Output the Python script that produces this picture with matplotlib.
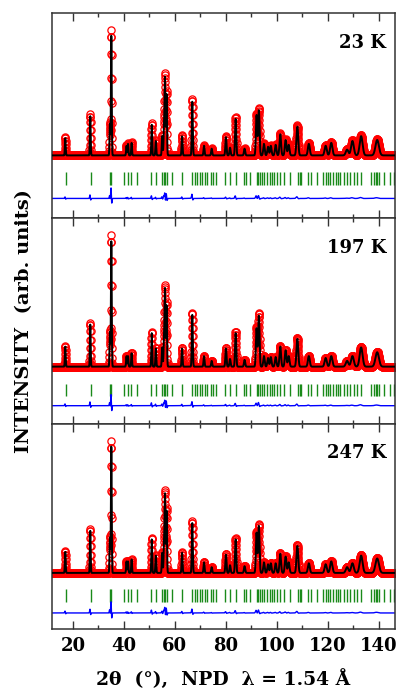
import numpy as np
import matplotlib
matplotlib.use("Agg")
import matplotlib.pyplot as plt
from matplotlib.ticker import MultipleLocator

# reflection positions (2theta, deg) and observed peak heights for each temperature
peak_pos = [17.0, 26.8, 34.5, 35.05, 41.0, 41.6, 43.0, 50.9, 52.5, 55.0, 55.7, 56.1,
            56.7, 62.8, 66.8, 71.4, 74.4, 80.0, 81.6, 83.8, 87.3, 92.0, 92.9, 94.9,
            96.5, 97.6, 99.5, 101.3, 103.4, 104.6, 108.0, 112.5, 119.1, 121.3,
            127.5, 129.6, 133.0, 139.3]
h_23K = [180, 410, 330, 1250, 100, 120, 130, 320, 150, 200, 300, 800,
         640, 200, 560, 100, 70, 190, 80, 380, 70, 420, 470, 120,
         90, 100, 110, 220, 160, 110, 300, 120, 100, 130,
         60, 150, 200, 160]
h_197K = [210, 440, 360, 1310, 110, 110, 140, 350, 190, 200, 300, 800,
          640, 190, 540, 110, 60, 190, 80, 350, 70, 400, 530, 110,
          90, 100, 100, 210, 170, 110, 290, 110, 90, 110,
          60, 110, 200, 150]
h_247K = [220, 440, 370, 1320, 120, 120, 140, 350, 180, 210, 300, 810,
          650, 210, 520, 110, 60, 190, 80, 350, 70, 420, 490, 110,
          90, 100, 100, 200, 170, 110, 280, 100, 90, 120,
          60, 100, 180, 150]

# Bragg reflection markers (same phase in every pattern)
bragg = [17.1, 26.9, 34.5, 35.1, 40.2, 41.5, 42.8, 45.2, 50.8, 52.4, 55.0, 55.7,
         56.3, 57.0, 58.7, 62.9, 66.8, 67.7, 68.7, 69.8, 70.7, 71.6, 72.7, 74.0,
         75.0, 76.2, 79.8, 81.5, 83.8, 87.0, 87.7, 89.6, 92.0, 92.5, 93.3, 94.2,
         94.9, 96.2, 97.2, 97.9, 98.8, 100.1, 101.1, 102.7, 105.1, 108.2, 109.0,
         109.5, 112.3, 113.2, 115.8, 118.2, 119.1, 120.0, 121.0, 121.9, 123.0,
         123.9, 124.9, 126.2, 127.3, 128.6, 130.2, 131.5, 132.8, 136.7, 138.0,
         138.8, 139.3, 140.1, 141.9, 144.5, 145.8]

temps = ["23 K", "197 K", "247 K"]
heights = [h_23K, h_197K, h_247K]

# panel-specific vertical layout: limits, bragg marker band, difference offset
ylims = [(-630, 1420), (-570, 1480), (-560, 1490)]
tick_rows = [(-170, -300), (-170, -290), (-160, -290)]
diff_off = [-430, -390, -400]

# Caglioti width parameters
U, V, W = 0.40, -0.20, 0.15
calc_scale = 0.96   # refined scale vs. observed
zero_shift = 0.015  # small zero-point mismatch

tth = np.arange(12.0, 146.5, 0.05)


def profile(x, pos, hts, scale=1.0, shift=0.0):
    y = np.zeros_like(x)
    for p, h in zip(pos, hts):
        t = np.tan(np.radians(p / 2))
        fwhm = np.sqrt(U * t**2 + V * t + W)
        sig = fwhm / 2.3548
        y += scale * h * np.exp(-0.5 * ((x - p - shift) / sig) ** 2)
    return y


serif = "DejaVu Serif"
plt.rcParams["font.family"] = serif
plt.rcParams["font.weight"] = "bold"

fig, axes = plt.subplots(3, 1, figsize=(4.0, 6.95), dpi=100, sharex=True)
fig.subplots_adjust(left=0.13, right=0.9875, top=0.981, bottom=0.095, hspace=0)

for i, ax in enumerate(axes):
    yobs = profile(tth, peak_pos, heights[i])
    ycalc = profile(tth, peak_pos, heights[i], calc_scale, zero_shift)
    ax.plot(tth, yobs, "o", ms=5.2, mfc="none", mec="red", mew=0.9, zorder=2)
    ax.plot(tth, ycalc, "-", color="black", lw=1.4, zorder=3)
    ax.vlines(bragg, tick_rows[i][1], tick_rows[i][0], color="#1a8a1a", lw=1.0)
    ax.plot(tth, yobs - ycalc + diff_off[i], "-", color="blue", lw=1.0)

    ax.set_xlim(11.8, 146.3)
    ax.set_ylim(*ylims[i])
    ax.set_yticks([])
    ax.xaxis.set_major_locator(MultipleLocator(20))
    ax.xaxis.set_minor_locator(MultipleLocator(10))
    ax.tick_params(axis="x", which="both", direction="in", top=True, bottom=True,
                   color="#333333", width=1.0)
    ax.tick_params(axis="x", which="major", length=6, labelsize=13, pad=6)
    ax.tick_params(axis="x", which="minor", length=3)
    for s in ax.spines.values():
        s.set_linewidth(1.1)
        s.set_color("#333333")
    ax.text(0.974, 0.855, temps[i], transform=ax.transAxes, ha="right", va="center",
            fontsize=13, fontweight="bold", family=serif)

for lab in axes[-1].get_xticklabels():
    lab.set_fontweight("bold")

axes[-1].set_xlabel("2\u03b8  (\u00b0),  NPD  \u03bb = 1.54 \u00c5", fontsize=13.5,
                    fontweight="bold", labelpad=10)
fig.text(0.06, (0.981 + 0.095) / 2, "INTENSITY  (arb. units)", rotation=90,
         ha="center", va="center", fontsize=14, fontweight="bold")

fig.savefig("out.png", dpi=100)
